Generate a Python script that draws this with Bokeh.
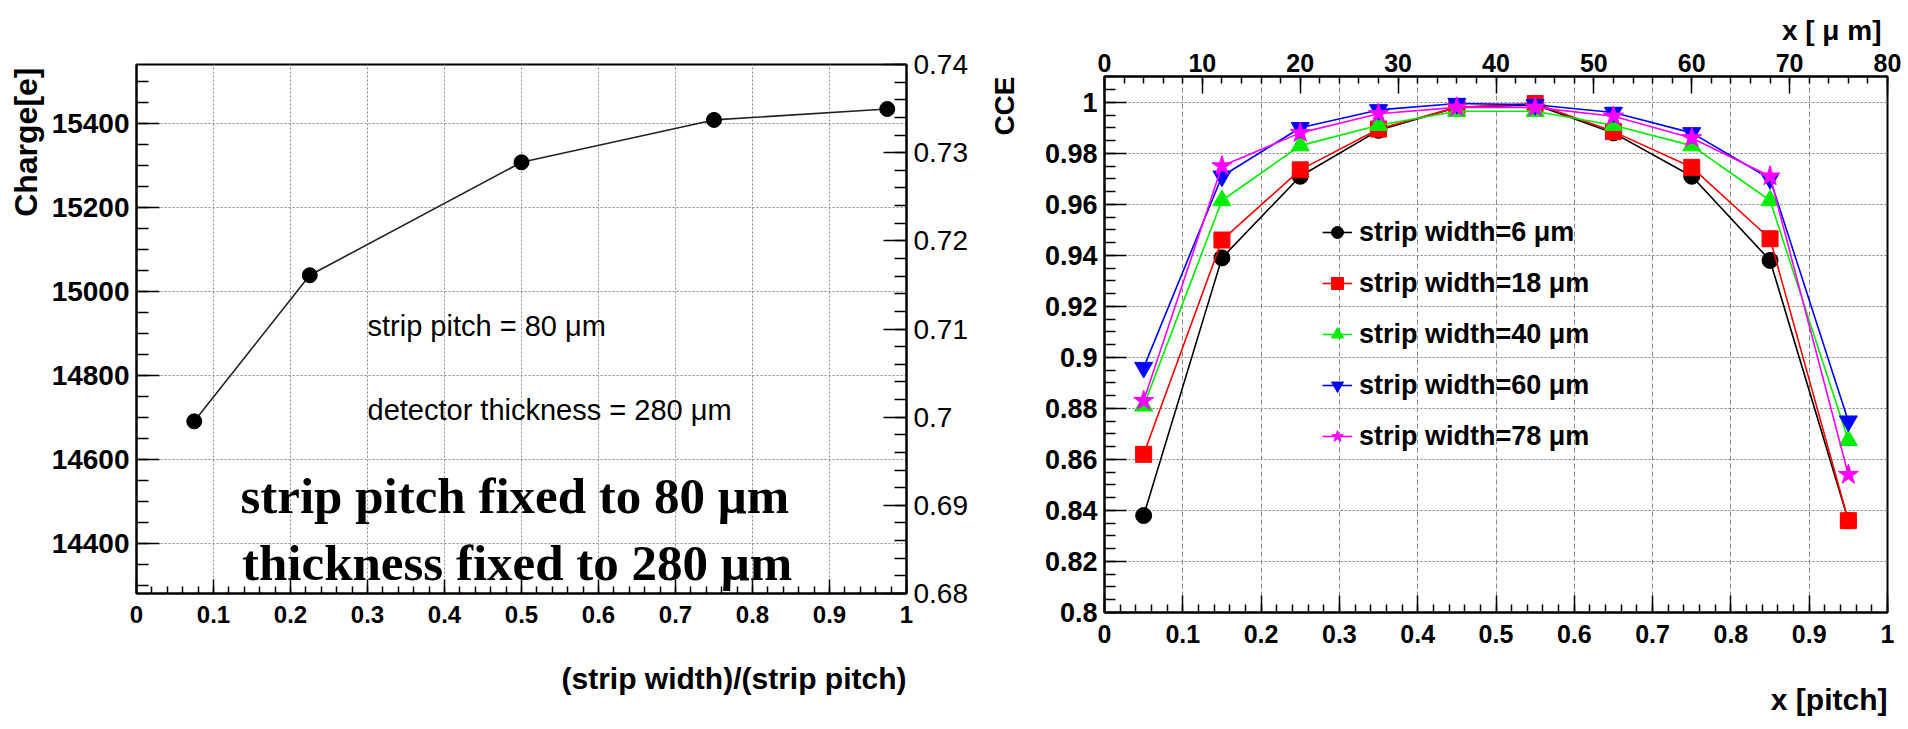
import math
from bokeh.plotting import figure
from bokeh.models import (Range1d, LinearAxis, SingleIntervalTicker, CustomJSTickFormatter,
                          Label, Legend, LegendItem, Title)
from bokeh.layouts import row, column
from bokeh.embed import file_html
from bokeh.resources import INLINE

# ---------------- data ----------------
# left panel: collected charge vs (strip width)/(strip pitch)
width_ratio = [0.075, 0.225, 0.5, 0.75, 0.975]
charge_e = [14690, 15038, 15307, 15408, 15434]
cce_axis_range = (0.68, 0.74)
charge_axis_range = (14280, 15540)

# right panel: CCE vs position (in units of pitch)
x_pitch = [0.05, 0.15, 0.25, 0.35, 0.45, 0.55, 0.65, 0.75, 0.85, 0.95]
cce_w6 = [0.838, 0.939, 0.971, 0.989, 0.998, 0.999, 0.988, 0.971, 0.938, 0.836]
cce_w18 = [0.862, 0.946, 0.9735, 0.9895, 0.998, 0.9995, 0.9885, 0.9745, 0.9465, 0.836]
cce_w40 = [0.881, 0.9615, 0.983, 0.991, 0.9965, 0.9965, 0.991, 0.983, 0.9615, 0.8675]
cce_w60 = [0.896, 0.971, 0.990, 0.997, 0.9995, 0.999, 0.996, 0.988, 0.970, 0.875]
cce_w78 = [0.883, 0.975, 0.988, 0.9955, 0.998, 0.998, 0.9945, 0.986, 0.971, 0.854]
series_values = [cce_w6, cce_w18, cce_w40, cce_w60, cce_w78]
series_labels = ["strip width=6 μm", "strip width=18 μm", "strip width=40 μm",
                 "strip width=60 μm", "strip width=78 μm"]
series_colors = ["#000000", "#ff0000", "#00ee00", "#0000ff", "#ff00ff"]
series_markers = ["circle", "square", "triangle", "inverted_triangle", "star"]
series_sizes = [16, 16, 18, 18, 21]

SANS = "Liberation Sans"
SERIF = "Liberation Serif"


def fmt():
    return CustomJSTickFormatter(code="return String(+tick.toFixed(4));")


def style_axis(ax, size, style="bold", standoff=7, major_in=20, minor_in=10):
    ax.axis_line_color = "black"
    ax.axis_line_width = 2
    ax.major_tick_in = major_in
    ax.major_tick_out = 0
    ax.minor_tick_in = minor_in
    ax.minor_tick_out = 0
    ax.major_tick_line_color = "black"
    ax.major_tick_line_width = 1.5
    ax.minor_tick_line_color = "black"
    ax.minor_tick_line_width = 1.5
    ax.major_label_text_font = SANS
    ax.major_label_text_font_style = style
    ax.major_label_text_font_size = f"{size}px"
    ax.major_label_text_color = "black"
    ax.major_label_standoff = standoff
    ax.formatter = fmt()


def title_axis(ax, text, size, standoff, orientation, line_height=1.0):
    # ROOT-style axis title, flush with the upper / right end of the axis
    ax.axis_label = text
    ax.axis_label_align = "end"
    ax.axis_label_orientation = orientation
    ax.axis_label_standoff = standoff
    ax.axis_label_text_font = SANS
    ax.axis_label_text_font_style = "bold"
    ax.axis_label_text_font_size = f"{size}px"
    ax.axis_label_text_line_height = line_height
    ax.axis_label_text_color = "black"


# ---------------- left panel ----------------
p1 = figure(frame_width=770, frame_height=529,
            x_range=Range1d(0, 1), y_range=Range1d(*charge_axis_range),
            min_border_left=134, min_border_right=64, min_border_top=64, min_border_bottom=136,
            output_backend="svg", toolbar_location=None, background_fill_color="white",
            border_fill_color="white")
p1.outline_line_color = "black"
p1.outline_line_width = 2
p1.extra_y_ranges = {"cce": Range1d(*cce_axis_range)}

p1.xaxis.ticker = SingleIntervalTicker(interval=0.1, num_minor_ticks=5)
p1.yaxis.ticker = SingleIntervalTicker(interval=200, num_minor_ticks=4)
style_axis(p1.xaxis[0], 24, standoff=12, major_in=14, minor_in=7)
style_axis(p1.yaxis[0], 28, standoff=7, major_in=23, minor_in=12)
title_axis(p1.xaxis[0], "(strip width)/(strip pitch)", 30, 53, 1e-4)
p1.add_layout(Title(text="Charge[e]", align="right", offset=3, text_font=SANS,
                    text_font_style="bold", text_font_size="32px", text_color="black"), "left")

cce_ax = LinearAxis(y_range_name="cce", ticker=SingleIntervalTicker(interval=0.01, num_minor_ticks=5))
style_axis(cce_ax, 28, style="normal", standoff=7, major_in=23, minor_in=12)
p1.add_layout(cce_ax, "right")

for g in (p1.xgrid[0], p1.ygrid[0]):
    g.grid_line_color = "#8a8a8a"
    g.grid_line_dash = "2 2"
    g.grid_line_width = 1

p1.line(width_ratio, charge_e, line_color="#222222", line_width=1.6)
p1.scatter(width_ratio, charge_e, marker="circle", size=15, fill_color="black", line_color="black")

p1.add_layout(Label(x=0.300, y=14916, text="strip pitch = 80 μm",
                    text_align="left", text_baseline="middle", text_font=SANS,
                    text_font_size="29px", text_color="black"))
p1.add_layout(Label(x=0.300, y=14718, text="detector thickness = 280  μm",
                    text_align="left", text_baseline="middle", text_font=SANS,
                    text_font_size="29px", text_color="black"))
p1.add_layout(Label(x=0.135, y=14513, text="strip pitch fixed to 80 μm",
                    text_align="left", text_baseline="middle", text_font=SERIF,
                    text_font_style="bold", text_font_size="51px", text_color="black"))
p1.add_layout(Label(x=0.137, y=14352, text="thickness fixed to 280 μm",
                    text_align="left", text_baseline="middle", text_font=SERIF,
                    text_font_style="bold", text_font_size="51px", text_color="black"))

# ---------------- right panel ----------------
p2 = figure(frame_width=783, frame_height=536,
            x_range=Range1d(0, 1), y_range=Range1d(0.8, 1.0101),
            min_border_left=132, min_border_right=25, min_border_top=76, min_border_bottom=117,
            output_backend="svg", toolbar_location=None, background_fill_color="white",
            border_fill_color="white")
p2.outline_line_color = "black"
p2.outline_line_width = 2
p2.extra_x_ranges = {"um": Range1d(0, 80)}

p2.xaxis.ticker = SingleIntervalTicker(interval=0.1, num_minor_ticks=5)
p2.yaxis.ticker = SingleIntervalTicker(interval=0.02, num_minor_ticks=4)
style_axis(p2.xaxis[0], 25, standoff=12, major_in=17, minor_in=8)
style_axis(p2.yaxis[0], 27, standoff=7, major_in=22, minor_in=11)
title_axis(p2.xaxis[0], "x [pitch]", 30, 54, 1e-4, line_height=0.8)
# the CCE title of the left panel's right axis sits in this figure's left border
title_axis(p2.yaxis[0], "CCE", 28, 37, math.pi / 2)

um_ax = LinearAxis(x_range_name="um", ticker=SingleIntervalTicker(interval=10, num_minor_ticks=5))
style_axis(um_ax, 25, standoff=5, major_in=17, minor_in=7)
p2.add_layout(um_ax, "above")
p2.add_layout(Title(text="x [ μ m]", align="right", offset=6, text_font=SANS,
                    text_font_style="bold", text_font_size="28px", text_color="black"), "above")

p2.xgrid[0].grid_line_color = "#8a8a8a"
p2.xgrid[0].grid_line_dash = "5 3"
p2.ygrid[0].grid_line_color = "#7a7a7a"
p2.ygrid[0].grid_line_dash = "2 2"

items = []
for vals, lab, col, mk, sz in zip(series_values, series_labels, series_colors,
                                  series_markers, series_sizes):
    lr = p2.line(x_pitch, vals, line_color=col, line_width=1.6)
    sr = p2.scatter(x_pitch, vals, marker=mk, size=sz, fill_color=col, line_color=col)
    items.append(LegendItem(label=lab, renderers=[lr, sr]))

legend = Legend(items=items, location=(218, 151), orientation="vertical",
                glyph_width=30, glyph_height=50, label_height=50, spacing=1,
                padding=0, margin=0, label_standoff=7,
                border_line_color=None, background_fill_alpha=0,
                label_text_font=SANS, label_text_font_style="bold",
                label_text_font_size="27px", label_text_color="black")
p2.add_layout(legend, "center")

layout = row(column(p1), column(p2))
open("out.html", "w").write(file_html(layout, INLINE))
